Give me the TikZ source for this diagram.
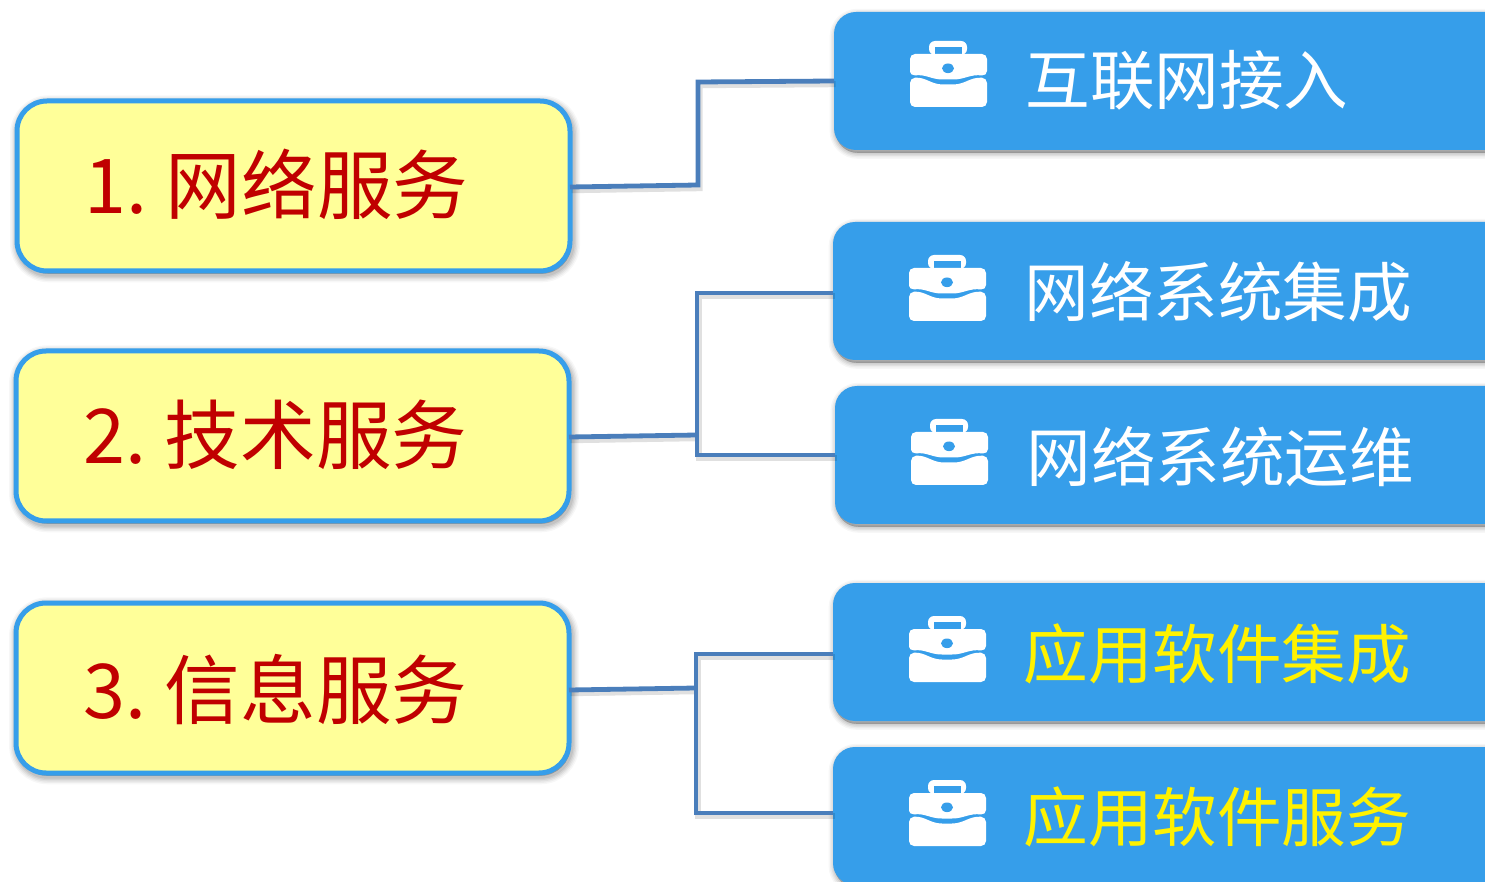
\documentclass[tikz,border=0pt]{standalone}
\usepackage{fontspec}
\setmainfont{Noto Sans CJK SC}
\usetikzlibrary{shadows}
\definecolor{boxblue}{HTML}{369EEA}
\definecolor{linkblue}{HTML}{4A7EBB}
\definecolor{paleyellow}{HTML}{FFFF99}
\definecolor{labelred}{HTML}{C00000}
\tikzset{
  softshadow/.style={
    preaction={draw=black,fill=black,opacity=.03,transform canvas={xshift=.8pt,yshift=-1.4pt},line width=#1+6pt},
    preaction={draw=black,fill=black,opacity=.04,transform canvas={xshift=.8pt,yshift=-1.4pt},line width=#1+4.6pt},
    preaction={draw=black,fill=black,opacity=.05,transform canvas={xshift=.8pt,yshift=-1.4pt},line width=#1+3.2pt},
    preaction={draw=black,fill=black,opacity=.06,transform canvas={xshift=.8pt,yshift=-1.4pt},line width=#1+1.8pt},
    preaction={draw=black,fill=black,opacity=.07,transform canvas={xshift=.8pt,yshift=-1.4pt},line width=#1+.4pt}},
  groupbox/.style={draw=boxblue,line width=2.5pt,fill=paleyellow,rounded corners=15pt,
    minimum width=276.5pt,minimum height=85pt,outer sep=0pt,inner sep=0pt,softshadow=2.5pt},
  itembox/.style={fill=boxblue,rounded corners=11pt,anchor=west,
    minimum width=400pt,minimum height=69pt,outer sep=0pt,inner sep=0pt,softshadow=0pt},
  grouplabel/.style={anchor=base west,text=labelred,font=\fontsize{37.8}{37.8}\selectfont,inner sep=0pt},
  itemlabel/.style={anchor=base west,font=\fontsize{32.3}{32.3}\selectfont,inner sep=0pt},
  link/.style={draw=linkblue,line width=2.4pt,line join=miter},
  linkshadow/.style={draw=black,opacity=.12,line width=3pt,transform canvas={xshift=.8pt,yshift=-1.6pt}},
  pics/casekit/.style={code={
    \fill[white,rounded corners=3pt] (19,14) -- (19,0) -- (57,0) -- (57,14) -- cycle;
    \fill[boxblue] (25,6) rectangle (52,14);
    \fill[white,rounded corners=2.5pt] (0,35) -- (0,13) -- (77,13) -- (77,35) .. controls (60,33) and (55,38.5) .. (38,38.5) .. controls (21,38.5) and (16,33) .. (0,35) -- cycle;
    \fill[white,rounded corners=2.5pt] (0,37) .. controls (16,36) and (21,43.5) .. (38,43.5) .. controls (55,43.5) and (60,36) .. (77,37) -- (77,66) -- (0,66) -- cycle;
    \fill[boxblue] (38,27.3) ellipse [x radius=6,y radius=4.8];
  }}
}
\begin{document}
\begin{tikzpicture}[x=.5pt,y=-.5pt]
\useasboundingbox (0,0) rectangle (1485,882);
\clip (0,0) rectangle (1485,882);
\fill[white] (0,0) rectangle (1485,882);
\node[groupbox] (g1) at (293.5,186) {};
\node[groupbox] (g2) at (292.5,436) {};
\node[groupbox] (g3) at (292.5,688) {};
\node[itembox] (i1) at (834,81) {};
\node[itembox] (i2) at (833,291) {};
\node[itembox] (i3) at (835,455) {};
\node[itembox] (i4) at (833,652) {};
\node[itembox] (i5) at (833,816) {};
\coordinate (k1a) at (698,185);
\coordinate (k1b) at (698,82);
\coordinate (k2a) at (697,435);
\coordinate (k2b) at (697,293);
\coordinate (k2c) at (697,455);
\coordinate (k3a) at (696,688);
\coordinate (k3b) at (696,654);
\coordinate (k3c) at (696,813);
\draw[linkshadow] ([yshift=-.5pt]g1.east) -- (k1a) -- (k1b) -- (i1.west);
\draw[linkshadow] ([yshift=-.5pt]g2.east) -- (k2a);
\draw[linkshadow] ([yshift=-1pt]i2.west) -- (k2b) -- (k2c) -- (i3.west);
\draw[linkshadow] ([yshift=-1pt]g3.east) -- (k3a);
\draw[linkshadow] ([yshift=-1pt]i4.west) -- (k3b) -- (k3c) -- ([yshift=1.5pt]i5.west);
\draw[link] ([yshift=-.5pt]g1.east) -- (k1a) -- (k1b) -- (i1.west);
\draw[link] ([yshift=-.5pt]g2.east) -- (k2a);
\draw[link] ([yshift=-1pt]i2.west) -- (k2b) -- (k2c) -- (i3.west);
\draw[link] ([yshift=-1pt]g3.east) -- (k3a);
\draw[link] ([yshift=-1pt]i4.west) -- (k3b) -- (k3c) -- ([yshift=1.5pt]i5.west);
\node[grouplabel] (t1) at (84,214) {1. \kern-2pt网络服务};
\node[grouplabel] (t2) at (83,464) {2. \kern-2pt技术服务};
\node[grouplabel] (t3) at (83,718) {3. \kern-2pt信息服务};
\pic at (910,41) {casekit};
\pic at (909,255) {casekit};
\pic at (911,419) {casekit};
\pic at (909,616) {casekit};
\pic at (909,780) {casekit};
\node[itemlabel,text=white] (l1) at (1025,105) {互联网接入};
\node[itemlabel,text=white] (l2) at (1024,317) {网络系统集成};
\node[itemlabel,text=white] (l3) at (1026,481) {网络系统运维};
\node[itemlabel,text=yellow] (l4) at (1023,678) {应用软件集成};
\node[itemlabel,text=yellow] (l5) at (1023,841) {应用软件服务};
\end{tikzpicture}
\end{document}
